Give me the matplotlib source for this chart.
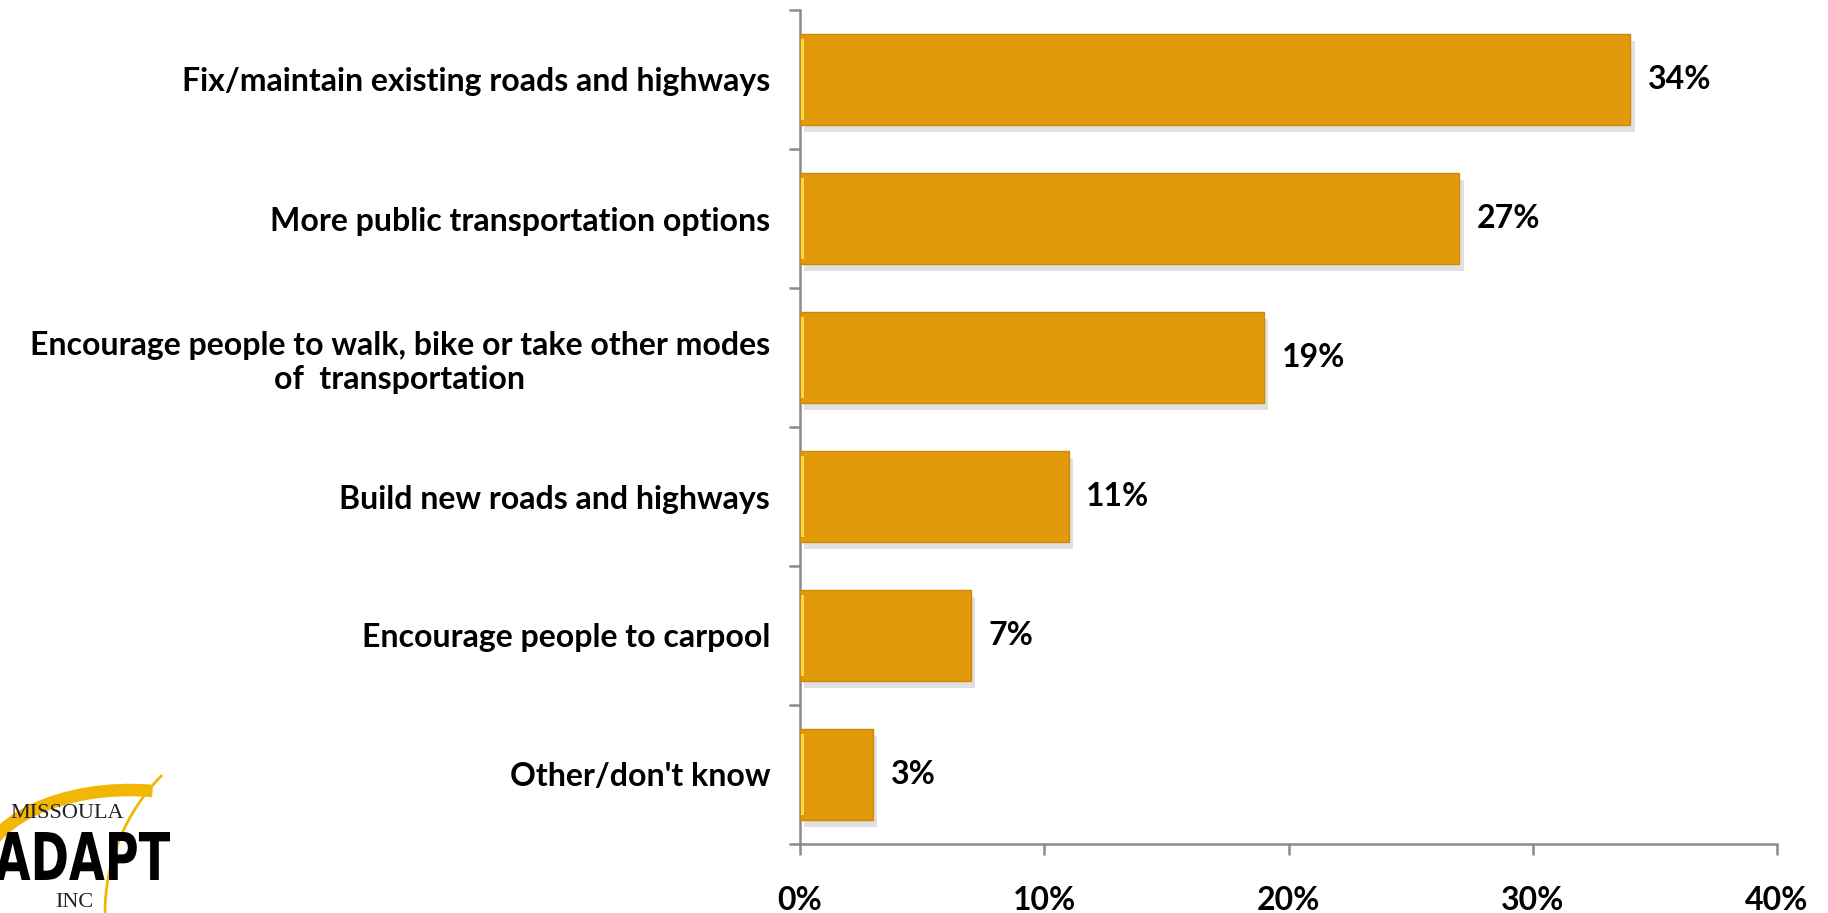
import matplotlib
matplotlib.use("Agg")
import numpy as np
import matplotlib.pyplot as plt
from matplotlib import patheffects as pe
from matplotlib.patches import Arc, PathPatch
from matplotlib.path import Path
from matplotlib.textpath import TextPath
from matplotlib.font_manager import FontProperties
import matplotlib.transforms as mtrans
from matplotlib.ticker import FixedLocator, PercentFormatter

categories = [
    "Fix/maintain existing roads and highways",
    "More public transportation options",
    "Encourage people to walk, bike or take other modes\nof  transportation",
    "Build new roads and highways",
    "Encourage people to carpool",
    "Other/don't know",
]
values = [34, 27, 19, 11, 7, 3]
x_ticks = [0, 10, 20, 30, 40]

FONT = "Lato"
FS = 23
BAR = "#E39A0A"
AXC = "#8C8C8C"

fig = plt.figure(figsize=(18.28, 9.13), dpi=100)
ax = fig.add_axes([800 / 1828, 1 - 844 / 913, 977 / 1828, 834 / 913])

y = list(range(len(categories)))
bars = ax.barh(y, values, height=0.65, color=BAR, edgecolor="#C98A0C", linewidth=1.0, zorder=3)
for b in bars:
    b.set_path_effects([pe.SimplePatchShadow(offset=(3, -5), shadow_rgbFace="#999999", alpha=0.3), pe.Normal()])
ax.barh(y, [0.12] * len(y), left=0.05, height=0.58, color="#FFD84A", linewidth=0, zorder=4)

for yi, v in zip(y, values):
    ax.text(v + 0.72, yi, f"{v}%", va="center", ha="left", fontsize=FS,
            fontweight="bold", family=FONT, color="black")

ax.set_xlim(0, 40)
ax.set_ylim(len(categories) - 0.5, -0.5)
ax.xaxis.set_major_locator(FixedLocator(x_ticks))
ax.xaxis.set_major_formatter(PercentFormatter(decimals=0))
ax.set_yticks(y)
ax.set_yticklabels(categories, fontsize=FS, fontweight="bold", family=FONT, ha="center")
ax.yaxis.set_minor_locator(FixedLocator([i - 0.5 for i in range(len(categories) + 1)]))

for lbl in ax.get_xticklabels():
    lbl.set_fontsize(FS)
    lbl.set_fontweight("bold")
    lbl.set_family(FONT)

ax.tick_params(axis="y", which="major", length=0, pad=0)
ax.tick_params(axis="y", which="minor", length=8, width=1.8, color=AXC, direction="out")
ax.tick_params(axis="x", which="major", length=8, width=1.8, color=AXC, direction="out", pad=22)

fig.canvas.draw()
renderer = fig.canvas.get_renderer()
for lbl in ax.get_yticklabels():
    w = lbl.get_window_extent(renderer).width
    off = mtrans.ScaledTranslation(-(w / 2 + 30) / 100, 0, fig.dpi_scale_trans)
    lbl.set_transform(lbl.get_transform() + off)

for s in ["top", "right"]:
    ax.spines[s].set_visible(False)
for s in ["left", "bottom"]:
    ax.spines[s].set_color(AXC)
    ax.spines[s].set_linewidth(1.8)

# ---- logo (bottom-left), built in pixel coordinates ----
W, H = 1828, 913
pix = mtrans.Affine2D().scale(1, -1).translate(0, H) + mtrans.Affine2D().scale(1 / W, 1 / H) + fig.transFigure

arc1 = Arc((130, 875), 300, 170, theta1=-180, theta2=-75,
           color="#F2B705", lw=9, transform=pix, clip_on=False)
fig.add_artist(arc1)
arc2 = Arc((300, 913), 390, 390, theta1=-180, theta2=-135,
           color="#F2B705", lw=2, transform=pix, clip_on=False)
fig.add_artist(arc2)

fig.text(10 / W, 1 - 818 / H, "MISSOULA", family="Liberation Serif", fontsize=16, color="#222222")
fig.text(55 / W, 1 - 907 / H, "INC", family="Liberation Serif", fontsize=16, color="#222222")

tp = TextPath((0, 0), "ADAPT", prop=FontProperties(family="DejaVu Sans", weight="bold"), size=50)
v = tp.vertices
codes = tp.codes
mask = codes != Path.CLOSEPOLY if codes is not None else np.ones(len(v), bool)
x0, x1 = v[mask, 0].min(), v[mask, 0].max()
y0, y1 = v[mask, 1].min(), v[mask, 1].max()
sx = 175 / (x1 - x0)
sy = 48 / (y1 - y0)
# in pixel space with y downward: map glyph baseline bottom to y=880
glyph = mtrans.Affine2D().translate(-x0, -y0).scale(sx, -sy).translate(-5, 880)
patch = PathPatch(tp, facecolor="black", edgecolor="none", clip_on=False)
patch.set_transform(glyph + pix)
fig.add_artist(patch)

fig.savefig("out.png", dpi=100, facecolor="white")
